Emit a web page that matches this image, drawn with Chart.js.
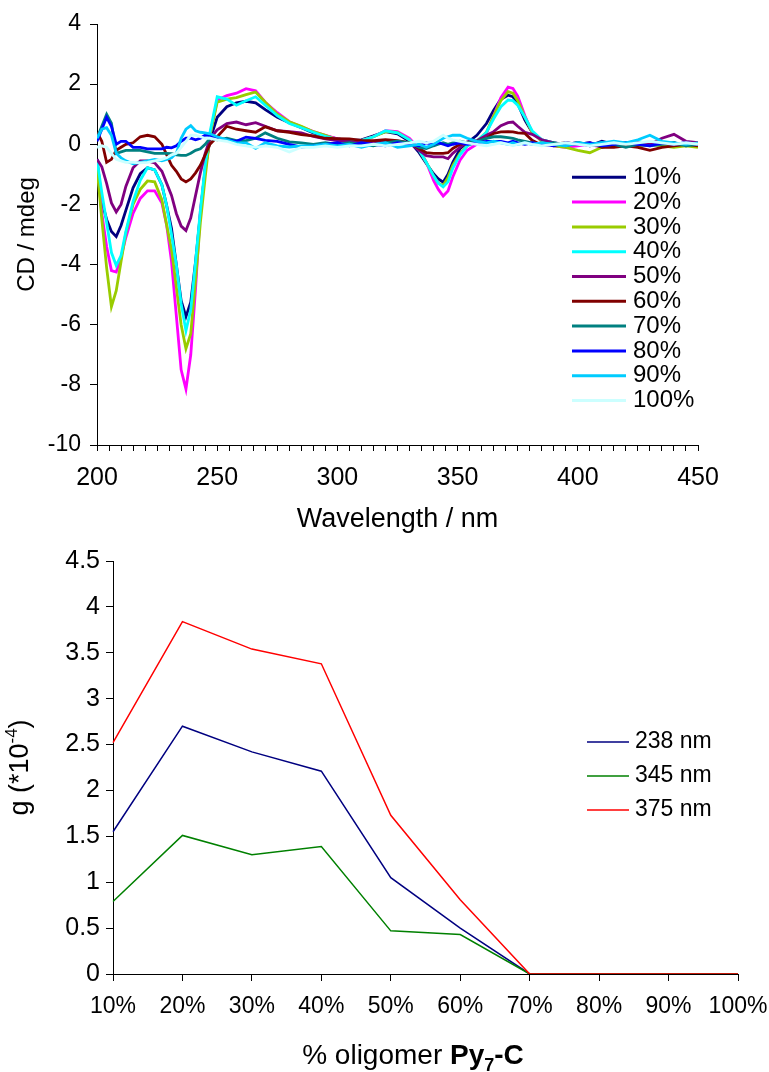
<!DOCTYPE html>
<html>
<head>
<meta charset="utf-8">
<script src="https://cdn.jsdelivr.net/npm/chart.js@4.4.0/dist/chart.umd.min.js"></script>
<style>
  body { margin: 0; background: #fff; }
  canvas { position: absolute; left: 0; }
  #cdChart { top: 0; }
  #gChart { top: 540px; }
</style>
</head>
<body>
<canvas id="cdChart" width="769" height="540"></canvas>
<canvas id="gChart" width="769" height="532"></canvas>
<script>
// CD spectra, mdeg, one array per oligomer fraction
const wavelength = [200, 202, 204, 206, 208, 210, 212, 215, 218, 221, 224, 227, 229, 231, 233, 235, 237, 239, 241, 243, 245, 247, 250, 254,
    258, 262, 266, 270, 275, 280, 285, 290, 295, 300, 305, 310, 315, 320, 325, 330, 334, 337, 340, 342, 344, 346, 348, 351,
    354, 358, 362, 365, 368, 371, 373, 375, 378, 381, 385, 390, 395, 400, 405, 410, 415, 420, 425, 430, 435, 440, 445, 450];

const cd10 = [-0.5, -1.9, -2.5, -2.9, -3.07, -2.7, -2.2, -1.45, -0.98, -0.78, -0.85, -1.35, -2.05, -2.8, -4.0, -5.2, -5.73, -5.25, -3.9, -2.3, -0.8, 0.15, 0.9, 1.25,
    1.38, 1.43, 1.38, 1.15, 0.9, 0.72, 0.55, 0.38, 0.28, 0.18, 0.13, 0.15, 0.28, 0.42, 0.35, 0.1, -0.28, -0.64, -0.98, -1.15, -1.26, -1.0, -0.6, -0.15,
    0.05, 0.3, 0.69, 1.13, 1.5, 1.63, 1.58, 1.35, 0.8, 0.4, 0.15, 0.05, 0.0, 0.05, -0.05, 0.1, 0.0, 0.05, -0.05, 0.05, 0.0, 0.05, -0.05, 0.0];
const cd20 = [-0.6, -2.3, -3.4, -4.2, -4.25, -3.75, -3.1, -2.3, -1.8, -1.55, -1.55, -1.95, -2.7, -3.9, -5.7, -7.5, -8.14, -7.0, -4.8, -2.2, -0.87, 0.3, 1.47, 1.62,
    1.7, 1.85, 1.78, 1.4, 1.05, 0.75, 0.58, 0.42, 0.3, 0.18, 0.12, 0.12, 0.25, 0.45, 0.42, 0.2, -0.15, -0.6, -1.2, -1.5, -1.72, -1.55, -1.09, -0.53,
    -0.2, 0.0, 0.36, 0.95, 1.55, 1.9, 1.86, 1.6, 0.95, 0.4, 0.1, -0.05, -0.1, -0.05, 0.0, -0.1, 0.05, -0.05, 0.0, 0.05, -0.05, 0.0, 0.05, -0.05];
const cd30 = [-0.75, -2.5, -4.1, -5.4, -4.87, -3.9, -2.95, -2.0, -1.5, -1.22, -1.25, -1.85, -2.7, -3.5, -4.75, -6.0, -6.8, -6.3, -4.5, -2.6, -1.1, 0.3, 1.4, 1.5,
    1.55, 1.65, 1.74, 1.4, 1.0, 0.75, 0.6, 0.42, 0.3, 0.15, 0.1, 0.12, 0.25, 0.42, 0.4, 0.15, -0.2, -0.6, -1.05, -1.3, -1.37, -1.1, -0.7, -0.3,
    -0.05, 0.1, 0.4, 0.95, 1.45, 1.75, 1.7, 1.45, 0.9, 0.4, 0.1, -0.05, -0.1, -0.2, -0.28, -0.1, 0.0, 0.05, -0.05, 0.0, -0.05, -0.1, -0.05, -0.1];
const cd40 = [-0.5, -1.6, -2.6, -3.6, -4.03, -3.7, -2.9, -1.9, -1.2, -0.78, -0.85, -1.35, -2.05, -3.0, -4.0, -5.3, -6.2, -5.5, -3.9, -2.2, -0.7, 0.4, 1.58, 1.5,
    1.3, 1.45, 1.58, 1.3, 0.95, 0.69, 0.55, 0.4, 0.26, 0.15, 0.1, 0.12, 0.25, 0.45, 0.38, 0.15, -0.2, -0.6, -1.05, -1.3, -1.42, -1.25, -0.8, -0.35,
    -0.05, 0.1, 0.4, 0.85, 1.25, 1.47, 1.45, 1.3, 0.9, 0.45, 0.15, 0.05, 0.0, 0.05, 0.0, 0.05, -0.05, 0.05, 0.1, 0.0, 0.05, 0.0, 0.05, 0.0];
const cd50 = [-0.5, -0.75, -1.3, -1.95, -2.25, -2.0, -1.4, -0.78, -0.55, -0.55, -0.62, -0.9, -1.3, -1.7, -2.3, -2.72, -2.87, -2.45, -1.7, -0.95, -0.3, 0.19, 0.48, 0.69,
    0.74, 0.65, 0.72, 0.6, 0.45, 0.42, 0.38, 0.26, 0.18, 0.12, 0.1, 0.05, 0.08, 0.12, 0.1, 0.05, -0.2, -0.38, -0.42, -0.42, -0.42, -0.48, -0.3, -0.1,
    0.08, 0.12, 0.3, 0.42, 0.62, 0.72, 0.74, 0.6, 0.4, 0.33, 0.15, 0.05, 0.0, 0.05, -0.05, 0.0, 0.05, 0.0, 0.05, 0.0, 0.2, 0.33, 0.1, 0.05];
const cd60 = [0.4, 0.1, -0.6, -0.5, -0.2, -0.1, 0.0, 0.05, 0.25, 0.3, 0.25, 0.0, -0.35, -0.7, -0.9, -1.15, -1.25, -1.15, -0.95, -0.7, -0.35, 0.0, 0.25, 0.6,
    0.5, 0.45, 0.4, 0.58, 0.45, 0.4, 0.32, 0.28, 0.2, 0.19, 0.18, 0.13, 0.12, 0.15, 0.12, 0.05, -0.14, -0.28, -0.3, -0.3, -0.3, -0.28, -0.14, 0.0,
    0.05, 0.1, 0.2, 0.36, 0.41, 0.42, 0.41, 0.38, 0.36, 0.13, -0.03, 0.0, 0.05, 0.0, 0.05, -0.1, -0.1, -0.05, -0.1, -0.2, -0.1, -0.05, 0.0, -0.05];
const cd70 = [0.2, 0.6, 1.0, 0.7, -0.3, -0.25, -0.2, -0.2, -0.2, -0.25, -0.3, -0.3, -0.3, -0.31, -0.35, -0.37, -0.37, -0.3, -0.2, -0.15, 0.0, 0.2, 0.15, 0.2,
    0.12, 0.12, 0.2, 0.38, 0.2, 0.08, 0.05, 0.0, 0.05, 0.0, 0.05, 0.0, -0.05, 0.05, 0.1, 0.05, -0.1, -0.14, -0.05, 0.0, 0.05, 0.0, 0.05, 0.1,
    0.05, 0.1, 0.2, 0.25, 0.25, 0.22, 0.2, 0.15, 0.1, 0.05, 0.0, 0.05, -0.05, 0.05, 0.0, -0.05, 0.0, -0.1, 0.0, -0.05, 0.0, 0.05, -0.05, 0.0];
const cd80 = [0.1, 0.5, 0.9, 0.6, 0.0, 0.1, 0.1, -0.1, -0.1, -0.15, -0.15, -0.15, -0.1, -0.12, -0.05, 0.1, 0.2, 0.2, 0.15, 0.2, 0.3, 0.3, 0.2, 0.15,
    0.1, 0.24, 0.2, 0.13, 0.1, 0.0, -0.09, -0.05, 0.0, 0.05, -0.05, 0.05, 0.0, -0.05, 0.05, 0.0, -0.05, 0.05, 0.0, 0.05, 0.0, -0.05, 0.0, 0.05,
    0.0, 0.05, 0.1, 0.1, 0.1, 0.05, 0.1, 0.05, 0.0, 0.05, 0.0, -0.05, 0.05, 0.0, 0.05, -0.05, 0.0, 0.05, 0.0, -0.05, 0.05, 0.0, 0.05, 0.0];
const cd90 = [0.2, 0.5, 0.55, 0.3, -0.3, -0.45, -0.55, -0.65, -0.6, -0.55, -0.5, -0.55, -0.5, -0.45, -0.3, 0.2, 0.5, 0.62, 0.45, 0.4, 0.38, 0.35, 0.25, 0.15,
    0.05, 0.05, -0.14, 0.05, -0.05, -0.09, -0.05, -0.05, 0.0, -0.05, 0.0, -0.1, 0.0, 0.05, -0.1, -0.05, 0.0, -0.1, 0.0, 0.1, 0.2, 0.25, 0.3, 0.3,
    0.2, 0.1, 0.05, 0.1, 0.05, 0.0, 0.05, 0.0, 0.05, 0.0, 0.05, 0.0, -0.05, 0.05, 0.0, 0.05, 0.1, 0.05, 0.15, 0.3, 0.1, 0.05, 0.0, 0.05];
const cd100 = [-0.1, -0.05, -0.1, -0.3, -0.5, -0.55, -0.6, -0.6, -0.62, -0.6, -0.55, -0.5, -0.45, -0.35, -0.3, -0.1, 0.1, 0.3, 0.3, 0.25, 0.2, 0.2, 0.15, 0.1,
    0.0, -0.05, -0.1, -0.05, -0.1, -0.26, -0.1, -0.1, -0.05, -0.1, -0.05, -0.05, 0.0, -0.05, 0.0, 0.05, 0.1, 0.05, 0.1, 0.2, 0.3, 0.2, 0.15, 0.1,
    0.05, 0.0, -0.05, 0.0, 0.05, 0.0, -0.05, 0.0, 0.05, 0.0, -0.05, 0.0, 0.05, 0.0, -0.05, 0.0, 0.05, 0.0, 0.05, 0.1, 0.05, 0.0, 0.05, 0.0];

const cdSeries = [cd10, cd20, cd30, cd40, cd50, cd60, cd70, cd80, cd90, cd100];
const cdLabels = ['10%', '20%', '30%', '40%', '50%', '60%', '70%', '80%', '90%', '100%'];
const cdColors = ['#000080', '#ff00ff', '#99cc00', '#00ffff', '#800080', '#800000', '#008080', '#0000ff', '#00ccff', '#ccffff'];

// dissymmetry factor g (x 10^-4) against oligomer fraction
const fractions = ['10%', '20%', '30%', '40%', '50%', '60%', '70%', '80%', '90%', '100%'];
const g238 = [1.55, 2.70, 2.42, 2.21, 1.05, 0.50, 0, 0, 0, 0];
const g345 = [0.79, 1.51, 1.30, 1.39, 0.47, 0.43, 0, 0, 0, 0];
const g375 = [2.52, 3.84, 3.54, 3.38, 1.73, 0.81, 0, 0, 0, 0];
const gLabels = ['238 nm', '345 nm', '375 nm'];
const gColors = ['#000080', '#008000', '#ff0000'];

const FONT = 'Liberation Sans, Arial, sans-serif';

// legend drawn as a plain column inside the plot
const columnLegend = {
    id: 'columnLegend',
    afterDraw(chart, args, opts) {
        const ctx = chart.ctx;
        ctx.save();
        ctx.font = opts.fontSize + 'px ' + FONT;
        ctx.textBaseline = 'middle';
        ctx.fillStyle = '#000';
        chart.data.datasets.forEach((ds, i) => {
            const y = opts.top + i * opts.rowHeight;
            ctx.strokeStyle = ds.borderColor;
            ctx.lineWidth = opts.lineWidth;
            ctx.beginPath();
            ctx.moveTo(opts.left, y);
            ctx.lineTo(opts.left + opts.lineLength, y);
            ctx.stroke();
            ctx.fillText(ds.label, opts.left + opts.lineLength + opts.gap, y);
        });
        ctx.restore();
    }
};

// writes a row of text pieces (different fonts / raised or lowered) centred on x
function drawPieces(ctx, parts, cx, baseline) {
    let w = 0;
    parts.forEach(p => { ctx.font = p.font; w += ctx.measureText(p.text).width; });
    let x = cx - w / 2;
    parts.forEach(p => {
        ctx.font = p.font;
        ctx.fillText(p.text, x, baseline + p.dy);
        x += ctx.measureText(p.text).width;
    });
}

// axis titles of the g plot (superscript / bold subscript pieces)
const gTitles = {
    id: 'gTitles',
    afterDraw(chart) {
        const ctx = chart.ctx;
        const area = chart.chartArea;
        ctx.save();
        ctx.fillStyle = '#000';
        ctx.textBaseline = 'alphabetic';

        ctx.translate(28, (area.top + area.bottom) / 2);
        ctx.rotate(-Math.PI / 2);
        drawPieces(ctx, [
            { text: 'g (*10', font: '27px ' + FONT, dy: 0 },
            { text: '-4', font: '17px ' + FONT, dy: -11 },
            { text: ')', font: '27px ' + FONT, dy: 0 }
        ], 0, 0);
        ctx.setTransform(1, 0, 0, 1, 0, 0);

        drawPieces(ctx, [
            { text: '% oligomer ', font: '28px ' + FONT, dy: 0 },
            { text: 'Py', font: 'bold 28px ' + FONT, dy: 0 },
            { text: '7', font: 'bold 18px ' + FONT, dy: 7 },
            { text: '-C', font: 'bold 28px ' + FONT, dy: 0 }
        ], 413, 524);
        ctx.restore();
    }
};

// order: -i so later series are painted over earlier ones
const cdDatasets = cdSeries.map((s, i) => ({
    label: cdLabels[i],
    data: wavelength.map((w, j) => ({ x: w, y: s[j] })),
    borderColor: cdColors[i],
    borderWidth: 2.8,
    pointRadius: 0,
    tension: 0,
    order: -i
}));

new Chart(document.getElementById('cdChart'), {
    type: 'line',
    data: { datasets: cdDatasets },
    options: {
        responsive: false,
        animation: false,
        layout: { padding: { left: 0, right: 71, top: 24, bottom: 0 } },
        plugins: {
            legend: { display: false },
            tooltip: { enabled: false },
            columnLegend: { left: 572, top: 177.3, rowHeight: 24.8, lineLength: 54, gap: 7, lineWidth: 3, fontSize: 24 }
        },
        scales: {
            x: {
                type: 'linear',
                min: 200,
                max: 450,
                afterFit: s => { s.height = 95; },
                border: { color: '#000', width: 1 },
                grid: { drawOnChartArea: false, drawTicks: true, tickLength: 6, color: '#000' },
                ticks: {
                    stepSize: 5,
                    autoSkip: false,
                    maxRotation: 0,
                    padding: 12,
                    color: '#000',
                    font: { family: FONT, size: 25 },
                    callback: v => (v % 50 === 0 ? String(v) : '')
                },
                title: { display: true, text: 'Wavelength / nm', color: '#000', font: { family: FONT, size: 27 }, padding: { bottom: 4 } }
            },
            y: {
                min: -10,
                max: 4,
                afterFit: s => { s.width = 97; },
                border: { color: '#000', width: 1 },
                grid: { drawOnChartArea: false, drawTicks: true, tickLength: 7, color: '#000' },
                ticks: { stepSize: 2, padding: 9, color: '#000', font: { family: FONT, size: 23 } },
                title: { display: true, text: 'CD / mdeg', color: '#000', font: { family: FONT, size: 24 }, padding: { top: 13 } }
            }
        }
    },
    plugins: [columnLegend]
});

const gDatasets = [g238, g345, g375].map((s, i) => ({
    label: gLabels[i],
    data: s,
    borderColor: gColors[i],
    borderWidth: 1.5,
    pointRadius: 0,
    tension: 0,
    order: -i
}));

new Chart(document.getElementById('gChart'), {
    type: 'line',
    data: { labels: fractions, datasets: gDatasets },
    options: {
        responsive: false,
        animation: false,
        layout: { padding: { left: 0, right: 31, top: 15, bottom: 0 } },
        plugins: {
            legend: { display: false },
            tooltip: { enabled: false },
            columnLegend: { left: 587, top: 202, rowHeight: 34, lineLength: 42, gap: 6, lineWidth: 1.5, fontSize: 23 }
        },
        scales: {
            x: {
                offset: false,
                // the last label may hang past the plot edge
                afterFit: s => { s.height = 98; s.paddingRight = 0; },
                border: { color: '#000', width: 1 },
                grid: { drawOnChartArea: false, drawTicks: true, tickLength: 7, color: '#000' },
                ticks: { autoSkip: false, maxRotation: 0, padding: 12, color: '#000', font: { family: FONT, size: 23 } }
            },
            y: {
                min: 0,
                max: 4.5,
                afterFit: s => { s.width = 113; },
                border: { color: '#000', width: 1 },
                grid: { drawOnChartArea: false, drawTicks: true, tickLength: 7, color: '#000' },
                ticks: {
                    stepSize: 0.5,
                    padding: 6,
                    color: '#000',
                    font: { family: FONT, size: 25 },
                    callback: v => String(Math.round(v * 10) / 10)
                }
            }
        }
    },
    plugins: [columnLegend, gTitles]
});
</script>
</body>
</html>
